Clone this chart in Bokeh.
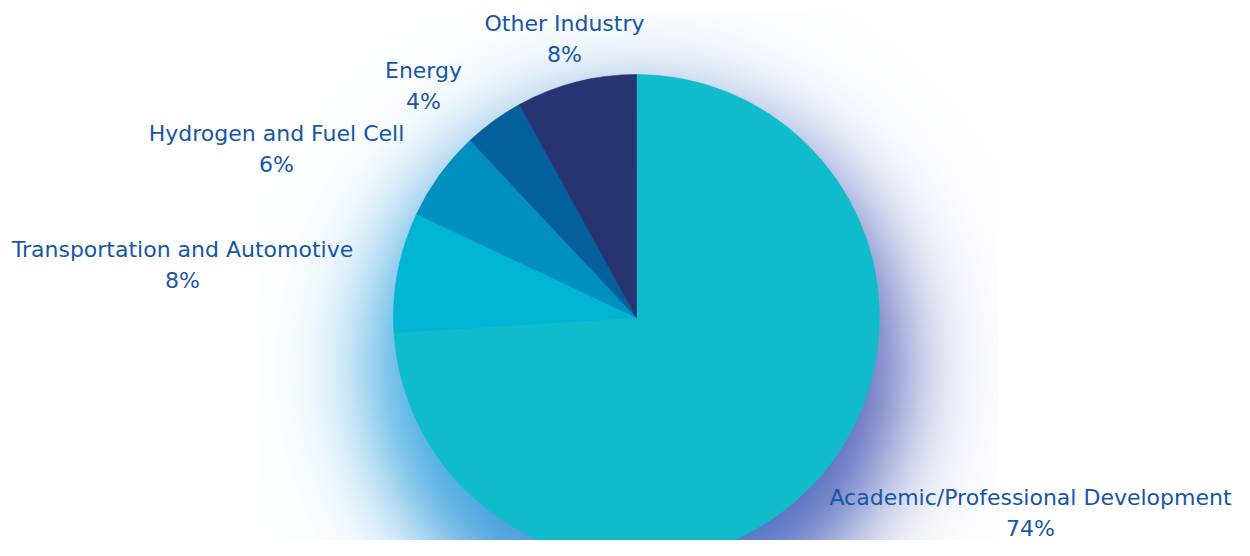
import numpy as np
from bokeh.plotting import figure
from bokeh.models import Range1d
from bokeh.core.properties import value
from bokeh.embed import file_html
from bokeh.resources import INLINE

# ---- data ----
categories = ["Academic/Professional Development", "Transportation and Automotive",
              "Hydrogen and Fuel Cell", "Energy", "Other Industry"]
shares = [74, 8, 6, 4, 8]
pct_labels = ["74%", "8%", "6%", "4%", "8%"]
slice_colors = ["#10BCCC", "#00B4D4", "#0090C0", "#04609C", "#283472"]

# ---- layout (reference pixel space, y down) ----
PW, PH = 1234, 540
H = 556
CX, CY, R = 636, 317, 243
# label centre offsets from the pie centre (name line); pct line sits 31px lower
label_offsets = [(394, 180), (-454, -68), (-360, -184), (-213, -247), (-72, -294)]
LINE_GAP = 31
TEXT_COLOR = "#1656A8"
FONT = "DejaVu Sans"
FONT_SIZE = "22px"

def ydata(ypix):
    return H - ypix

p = figure(width=PW, height=PH, x_range=Range1d(0, PW), y_range=Range1d(H - PH, H),
           output_backend="svg", toolbar_location=None, min_border=0)
p.axis.visible = False
p.grid.visible = False
p.outline_line_color = None
p.background_fill_color = "white"
p.border_fill_color = "white"

# ---- soft glow behind the pie (clipped box) ----
gx0, gx1, gy0, gy1 = CX - 376, CX + 362, 12, H
gcx, gcy = CX, CY + 50
xs = np.arange(gx0, gx1) + 0.5
ys_pix = H - (np.arange(0, gy1 - gy0) + 0.5)   # row 0 = bottom
XX, YY = np.meshgrid(xs, ys_pix)
dx = XX - gcx
dy = gcy - YY
d = np.hypot(dx, dy)
inten = 0.92 / (1.0 + np.exp((d - 265.0) / 27.0))
t = np.clip((1 + dx / np.maximum(d, 1)) / 2, 0, 1)
cl = np.array([40, 160, 222], dtype=float)
cr = np.array([66, 80, 178], dtype=float)
rgb = cl[None, None, :] * (1 - t[..., None]) + cr[None, None, :] * t[..., None]
img = np.zeros(d.shape, dtype=np.uint32)
view = img.view(dtype=np.uint8).reshape(d.shape + (4,))
view[..., 0] = rgb[..., 0].astype(np.uint8)
view[..., 1] = rgb[..., 1].astype(np.uint8)
view[..., 2] = rgb[..., 2].astype(np.uint8)
view[..., 3] = (inten * 255).astype(np.uint8)
p.image_rgba(image=[img], x=gx0, y=ydata(gy1), dw=gx1 - gx0, dh=gy1 - gy0)

# ---- pie ----
total = float(sum(shares))
cum = np.concatenate([[0], np.cumsum(shares)]) / total
start = np.pi / 2 - 2 * np.pi * cum[:-1]
end = np.pi / 2 - 2 * np.pi * cum[1:]
p.wedge(x=CX, y=ydata(CY), radius=R, start_angle=start, end_angle=end,
        direction="clock", fill_color=slice_colors, line_color=slice_colors, line_width=0.6)

# ---- labels ----
lx = [CX + o[0] for o in label_offsets]
ly = [ydata(CY + o[1]) for o in label_offsets]
ly2 = [ydata(CY + o[1] + LINE_GAP) for o in label_offsets]
p.text(x=lx, y=ly, text=categories, text_align="center", text_baseline="middle",
       text_color=TEXT_COLOR, text_font=value(FONT), text_font_size=FONT_SIZE)
p.text(x=lx, y=ly2, text=pct_labels, text_align="center", text_baseline="middle",
       text_color=TEXT_COLOR, text_font=value(FONT), text_font_size=FONT_SIZE)

open("out.html", "w").write(file_html(p, INLINE))
